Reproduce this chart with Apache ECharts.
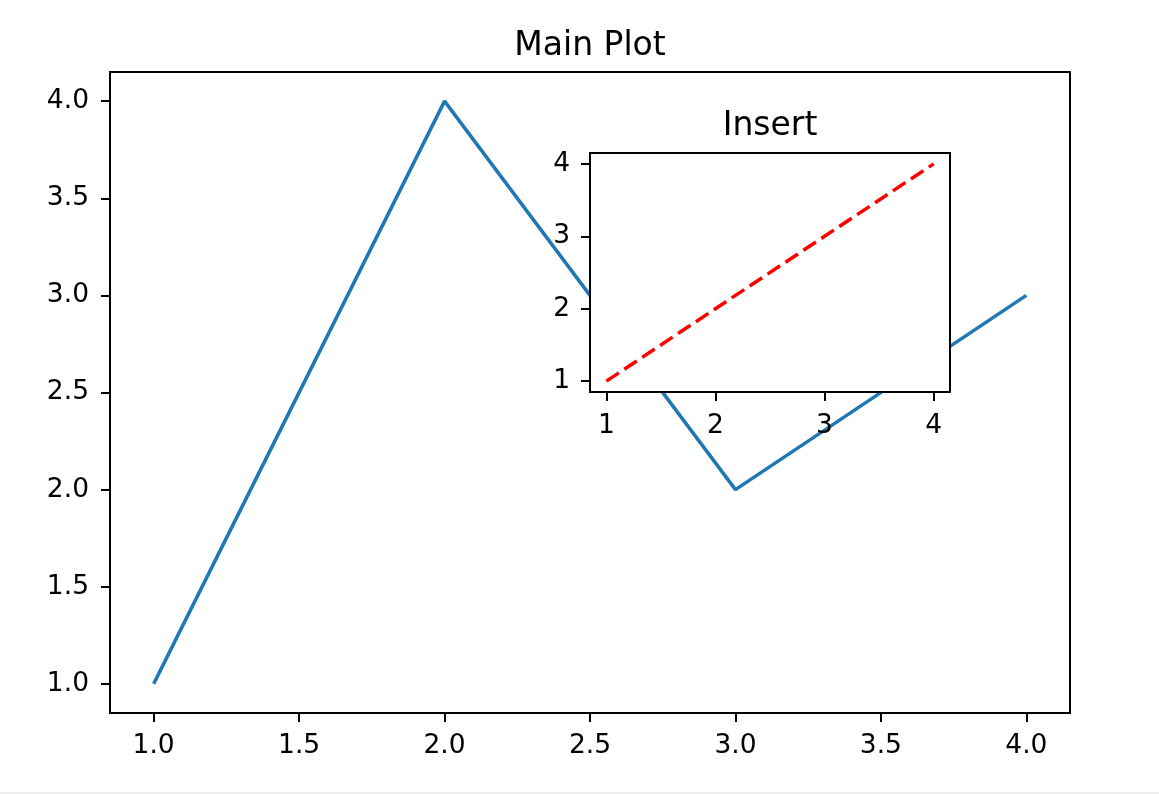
<!DOCTYPE html>
<html>
<head>
<meta charset="utf-8">
<script src="https://cdn.jsdelivr.net/npm/echarts@6/dist/echarts.min.js"></script>
<style>
  html, body { margin: 0; padding: 0; background: #fff; }
  #wrap { position: relative; width: 1159px; height: 794px; overflow: hidden; }
  #main, #inset { position: absolute; left: 0; top: 0; width: 1159px; height: 794px; }
  #strip { position: absolute; left: 0; bottom: 0; width: 1159px; height: 2px; background: #efefef; }
</style>
</head>
<body>
<div id="wrap">
  <div id="main"></div>
  <div id="inset"></div>
  <div id="strip"></div>
</div>
<script>
// ---- data ----
const mainX = [1, 2, 3, 4];
const mainY = [1, 4, 2, 3];
const insetX = [1, 2, 3, 4];
const insetY = [1, 2, 3, 4];
const mainTicks = [1.0, 1.5, 2.0, 2.5, 3.0, 3.5, 4.0];
const insetTicks = [1, 2, 3, 4];
const mainTitle = 'Main Plot';
const insetTitle = 'Insert';

const FONT = 'DejaVu Sans';
const TICK_FS = 26.5;
const TITLE_FS = 33;

function axis(ticks, fmt, margin, extra) {
  return Object.assign({
    type: 'value', min: 0.85, max: 4.15,
    splitLine: { show: false },
    axisLine: { show: true, onZero: false, lineStyle: { color: '#000', width: 2 } },
    axisTick: { show: true, inside: false, length: 9, customValues: ticks, lineStyle: { color: '#000', width: 2 } },
    axisLabel: { show: true, customValues: ticks, margin: margin, color: '#000', fontFamily: FONT, fontSize: TICK_FS, formatter: fmt }
  }, extra || {});
}

const mainChart = echarts.init(document.getElementById('main'), null, { renderer: 'canvas' });
mainChart.setOption({
  animation: false,
  title: { text: mainTitle, left: 590, top: 30, padding: 0, textAlign: 'center',
    textStyle: { fontFamily: FONT, fontSize: TITLE_FS, fontWeight: 'normal', color: '#000' } },
  grid: { left: 110, top: 72, width: 960, height: 641, show: true, borderColor: '#000', borderWidth: 2, backgroundColor: '#fff' },
  xAxis: axis(mainTicks, v => v.toFixed(1), 20),
  yAxis: axis(mainTicks, v => v.toFixed(1), 21),
  series: [{
    type: 'line', showSymbol: false, symbol: 'none',
    data: mainX.map((x, i) => [x, mainY[i]]),
    lineStyle: { color: '#1f77b4', width: 3.5 }
  }]
});

const insetChart = echarts.init(document.getElementById('inset'), null, { renderer: 'canvas' });
insetChart.setOption({
  animation: false,
  backgroundColor: 'transparent',
  title: { text: insetTitle, left: 770, top: 110, padding: 0, textAlign: 'center',
    textStyle: { fontFamily: FONT, fontSize: TITLE_FS, fontWeight: 'normal', color: '#000' } },
  grid: { left: 590, top: 153, width: 360, height: 239, show: true, borderColor: '#000', borderWidth: 2, backgroundColor: '#fff' },
  xAxis: axis(insetTicks, v => String(Math.round(v)), 20.5),
  yAxis: axis(insetTicks, v => String(Math.round(v)), 20),
  series: [{
    type: 'line', showSymbol: false, symbol: 'none',
    data: insetX.map((x, i) => [x, insetY[i]]),
    lineStyle: { color: '#ff0000', width: 3.5, type: [15, 6.5] }
  }]
});
</script>
</body>
</html>
